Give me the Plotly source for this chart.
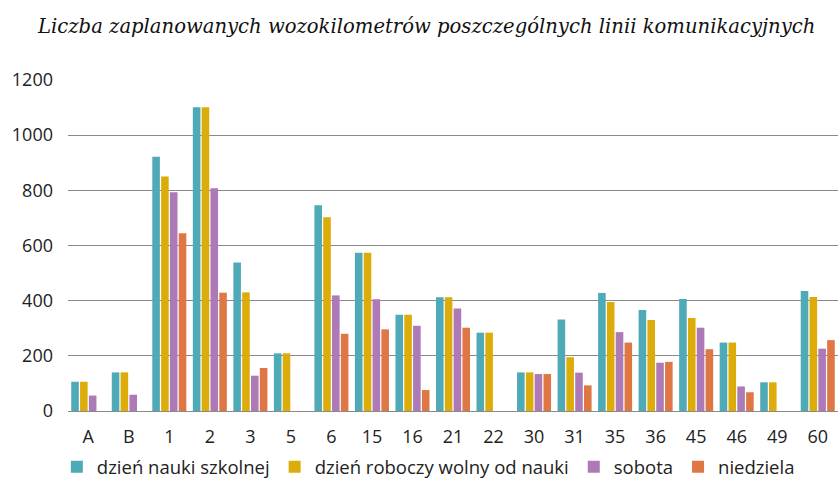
import plotly.graph_objects as go

categories = ["A", "B", "1", "2", "3", "5", "6", "15", "16", "21", "22", "30", "31", "35", "36", "45", "46", "49", "60"]
dzien_nauki = [106, 140, 922, 1101, 538, 209, 746, 574, 349, 412, 284, 140, 332, 428, 366, 406, 248, 104, 435]
dzien_wolny = [106, 140, 850, 1101, 430, 209, 702, 574, 349, 412, 284, 140, 195, 395, 330, 337, 248, 104, 413]
sobota = [56, 59, 793, 808, 128, None, 419, 405, 309, 372, None, 134, 139, 286, 175, 302, 89, None, 226]
niedziela = [None, None, 644, 429, 156, None, 280, 296, 76, 302, None, 134, 93, 248, 178, 224, 68, None, 257]

series_names = ["dzień nauki szkolnej", "dzień roboczy wolny od nauki", "sobota", "niedziela"]
series_values = [dzien_nauki, dzien_wolny, sobota, niedziela]
colors = ["#4eaab6", "#dcac0a", "#ad7ab7", "#df7744"]

fig = go.Figure()
for name, vals, col in zip(series_names, series_values, colors):
    fig.add_trace(go.Bar(x=categories, y=vals, name=name, marker_color=col,
                         marker_line_width=0))

fig.update_layout(
    width=840, height=487,
    barmode="group", bargap=0.13, bargroupgap=0.14,
    plot_bgcolor="white", paper_bgcolor="white",
    margin=dict(l=68, r=2, t=80, b=76, autoexpand=False),
    title=dict(text="Liczba zaplanowanych wozokilometrów poszczególnych linii komunikacyjnych",
               x=0.508, xanchor="center", y=0.947, yanchor="middle",
               font=dict(family="DejaVu Serif", size=19.6, color="#111", style="italic")),
    font=dict(family="Open Sans", color="#222"),
    legend=dict(orientation="h", x=0.468, xanchor="center", y=-0.17, yanchor="middle",
                font=dict(size=18.5, color="#222"), itemwidth=30, traceorder="normal"),
    xaxis=dict(type="category", showgrid=False, ticks="", showline=False,
               tickfont=dict(size=18), ticklabelstandoff=13),
    yaxis=dict(range=[0, 1200], dtick=200, showgrid=True, gridcolor="#8a8a8a", gridwidth=1.2,
               zeroline=True, zerolinecolor="#8a8a8a", zerolinewidth=1.2,
               tickfont=dict(size=18), ticklabelstandoff=14, showline=False),
)

fig.write_html("out.html", config={"displayModeBar": False},
               post_script="document.body.style.margin='0';document.body.style.overflow='hidden';")
